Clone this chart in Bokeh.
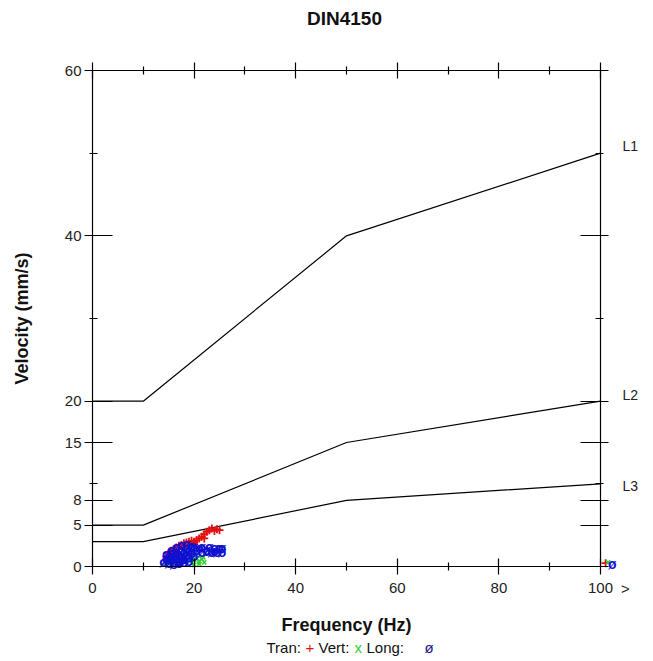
from bokeh.plotting import figure
from bokeh.models import (LinearAxis, FixedTicker, Range1d, Label,
                          CustomJSTickFormatter)
from bokeh.embed import file_html
from bokeh.resources import INLINE
from bokeh.core.properties import value

# ---- data ----
freq_lim = [0, 10, 50, 100]
L1 = [20, 20, 40, 50]
L2 = [5, 5, 15, 20]
L3 = [3, 3, 8, 10]
limit_names = ["L1", "L2", "L3"]

y_ticks = [0, 5, 8, 15, 20, 40, 60]
y_minor = [10, 30, 50]
x_ticks = [0, 20, 40, 60, 80, 100]
x_minor = [10, 30, 50, 70, 90]

# last entry of each series: over-range reading (beyond 100 Hz)
tran_x = [14.5, 15, 15.5, 16, 16.5, 17, 17.5, 18, 18, 18.5, 19, 19, 19.5, 20, 20,
          20.5, 21, 21.5, 22, 22, 22.5, 23, 23.5, 24, 24.5, 25, 16, 17, 18, 19, 20,
          101.0]
tran_y = [1.2, 1.6, 1.9, 2.1, 2.3, 2.5, 2.6, 2.8, 2.4, 2.9, 3.0, 2.6, 3.1, 3.0, 2.7,
          3.2, 3.4, 3.6, 3.9, 3.4, 4.2, 4.4, 4.6, 4.3, 4.5, 4.4, 1.8, 2.2, 2.6, 2.7, 2.9,
          0.4]

vert_x = [14, 14.5, 15, 15.5, 16, 19.5, 20, 20.5, 21, 21.5, 22, 20, 21, 17, 18,
          19, 21.8, 101.5]
vert_y = [0.2, 0.5, 0.3, 0.6, 0.4, 0.4, 0.8, 1.0, 0.6, 0.9, 0.5, 0.2, 0.3, 0.3, 0.5,
          0.7, 1.1, 0.5]

long_x = [14, 14.5, 15, 15, 15.5, 15.5, 16, 16, 16.5, 16.5, 17, 17, 17.5, 17.5, 18,
          18, 18.5, 18.5, 19, 19, 19.5, 19.5, 20, 20, 20.5, 21, 14.5, 15.5, 16.5,
          17.5, 18.5, 19.5, 21.5, 22.5, 23, 23.5, 24, 24.5, 25, 25.5, 21.5, 22.5,
          24, 25.5, 15, 16, 17, 18, 19, 16.5, 17.5, 102.3]
long_y = [0.5, 0.9, 0.4, 1.3, 0.8, 1.6, 0.6, 1.2, 1.0, 1.8, 0.7, 1.5, 1.2, 2.0, 0.9,
          1.7, 1.4, 2.2, 1.1, 2.0, 1.6, 2.4, 1.3, 2.3, 2.0, 2.2, 1.5, 2.0, 2.3, 2.6,
          2.7, 2.5, 2.3, 2.0, 2.3, 1.7, 2.2, 1.8, 2.2, 1.7, 1.7, 1.9, 1.9, 2.2,
          0.9, 0.3, 0.4, 0.5, 0.7, 1.4, 0.8, 0.3]

RED = "#e01010"
GREEN = "#30d030"
BLUE = "#1010d0"
NAVY = "#202090"
FONT = "Liberation Sans"
INK = "#111111"

W, H = 653, 661
# plot box in canvas pixels: x 92..600, y 70..566
PX_X = (600 - 92) / 100.0
PX_Y = (566 - 70) / 60.0

p = figure(width=W, height=H, output_backend="svg", toolbar_location=None,
           x_range=Range1d(-92 / PX_X, 100 + (W - 600) / PX_X),
           y_range=Range1d(-(H - 566) / PX_Y, 60 + 70 / PX_Y),
           x_axis_location=None, y_axis_location=None,
           min_border_left=0, min_border_right=0, min_border_top=0,
           min_border_bottom=0)
p.title.visible = False
p.outline_line_color = None
p.xgrid.visible = False
p.ygrid.visible = False
p.background_fill_color = "white"
p.border_fill_color = "white"

blank = CustomJSTickFormatter(code="return ''")


def style_axis(ax, major_in, major_out, minor_in, minor_out):
    ax.axis_line_color = "black"
    ax.axis_line_width = 1.2
    ax.major_tick_line_color = "black"
    ax.minor_tick_line_color = "black"
    ax.major_tick_line_width = 1.2
    ax.minor_tick_line_width = 1.2
    ax.major_tick_in = major_in
    ax.major_tick_out = major_out
    ax.minor_tick_in = minor_in
    ax.minor_tick_out = minor_out
    ax.major_label_text_font = FONT
    ax.major_label_text_font_size = "15px"
    ax.major_label_text_color = "#222222"
    ax.axis_label_text_font = FONT
    ax.axis_label_text_font_style = "bold"
    ax.axis_label_text_font_size = "18px"
    ax.axis_label_text_color = INK


xb = LinearAxis(ticker=FixedTicker(ticks=x_ticks, minor_ticks=x_minor),
                axis_label="Frequency (Hz)", bounds=(0, 100), fixed_location=0)
style_axis(xb, 8, 8, 4, 4)
xb.major_label_standoff = 8
xb.axis_label_standoff = 19
p.add_layout(xb, "below")

xt = LinearAxis(ticker=FixedTicker(ticks=x_ticks, minor_ticks=x_minor),
                formatter=blank, bounds=(0, 100), fixed_location=60)
style_axis(xt, 8, 8, 4, 4)
xt.major_label_text_font_size = "0px"
xt.major_label_standoff = 0
p.add_layout(xt, "above")

yl = LinearAxis(ticker=FixedTicker(ticks=y_ticks, minor_ticks=y_minor),
                axis_label="Velocity (mm/s)", bounds=(0, 60), fixed_location=0)
style_axis(yl, 20, 8, 5, 3)
yl.major_label_standoff = 3
yl.axis_label_standoff = 30
p.add_layout(yl, "left")

yr = LinearAxis(ticker=FixedTicker(ticks=y_ticks, minor_ticks=y_minor),
                formatter=blank, bounds=(0, 60), fixed_location=100)
style_axis(yr, 20, 8, 5, 3)
yr.major_label_text_font_size = "0px"
yr.major_label_standoff = 0
p.add_layout(yr, "right")

# title
p.add_layout(Label(x=344, y=H - 18, x_units="screen", y_units="screen",
                   text="DIN4150", text_font=FONT, text_font_size="19px",
                   text_font_style="bold", text_color=INK,
                   text_align="center", text_baseline="middle"))

# limit lines and their names
for ys, name, dy in zip([L1, L2, L3], limit_names, [-7, -6, 2]):
    p.line(freq_lim, ys, line_color="black", line_width=1.2)
    p.text([freq_lim[-1]], [ys[-1]], text=value(name), x_offset=22, y_offset=dy,
           text_font=value(FONT), text_font_size="14px", text_color="#222222",
           text_baseline="middle", text_align="left")

# readings
p.scatter(tran_x, tran_y, marker="cross", size=8, line_color=RED, line_width=1.8)
p.scatter(vert_x, vert_y, marker="x", size=6, line_color=GREEN, line_width=1.6)
p.text(long_x, long_y, text=value("ø"), text_color=BLUE,
       text_font=value(FONT), text_font_size="14px", text_font_style="bold",
       text_align="center", text_baseline="middle")

# over-range marker next to the last x tick label
p.add_layout(Label(x=625, y=H - 588, x_units="screen", y_units="screen",
                   text=">", text_font=FONT, text_font_size="15px",
                   text_align="center", text_baseline="middle",
                   text_color="#222222"))

# legend line under the x axis label
legend_parts = [("Tran:", INK, 266), ("+", RED, 305),
                ("Vert:", INK, 318), ("x", GREEN, 354),
                ("Long:", INK, 366), ("ø", NAVY, 424)]
for txt, col, xs in legend_parts:
    p.add_layout(Label(x=xs, y=H - 647, x_units="screen", y_units="screen",
                       text=txt, text_color=col, text_font=FONT,
                       text_font_size="15px", text_align="left",
                       text_baseline="middle"))

open("out.html", "w").write(file_html(p, INLINE))
